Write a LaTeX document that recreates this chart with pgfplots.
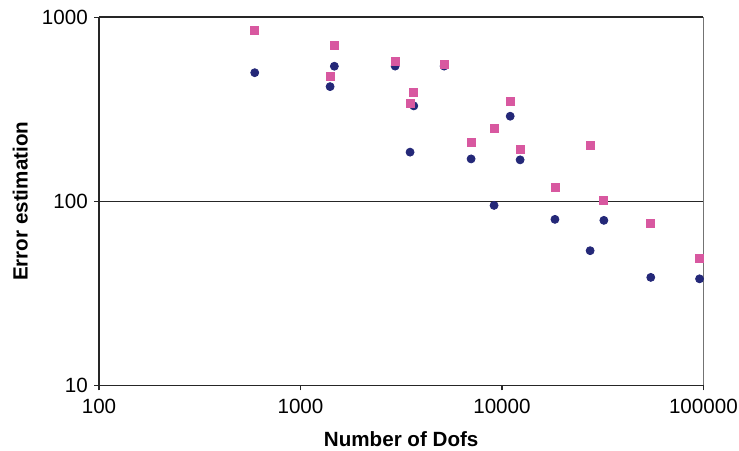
\documentclass[border=0pt]{standalone}
\usepackage{pgfplots}
\pgfplotsset{compat=1.18}
\usepackage{fontspec}
\setmainfont{Liberation Sans}
\definecolor{navy}{RGB}{36,40,120}
\definecolor{pinkm}{RGB}{216,88,160}
\begin{document}
\fontsize{10.3}{12}\selectfont
\begin{tikzpicture}
\path[use as bounding box] (-49.5pt,-32.35pt) rectangle (320pt,192.65pt);
\begin{axis}[
  scale only axis,
  width=302.2pt, height=184pt,
  xmode=log, ymode=log,
  xmin=100, xmax=100000, ymin=10, ymax=1000,
  axis x line*=bottom, axis y line*=left,
  x axis line style={line width=0.8pt, color=black!85, -},
  y axis line style={line width=1pt, color=black!85, -},
  xtick={100,1000,10000,100000},
  xticklabels={100,1000,10000,100000},
  ytick={10,100,1000},
  yticklabels={10,100,1000},
  xminorticks=false, yminorticks=false,
  tick align=outside,
  major tick length=2.5pt,
  tick style={line width=0.6pt, color=black!85},
  ymajorgrids,
  grid style={line width=0.6pt, color=black!85},
  /pgf/number format/assume math mode=true,
  ticklabel style={font=\fontsize{10.3}{12}\selectfont},
  xticklabel style={yshift=-1pt},
  yticklabel style={xshift=0.5pt},
  xlabel={\bfseries Number of Dofs},
  ylabel={\bfseries Error estimation},
  label style={font=\fontsize{10.3}{12}\selectfont\bfseries},
  xlabel style={yshift=-1.5pt},
  ylabel style={yshift=0pt},
  clip=false,
]
\draw[color=black!85, line width=0.8pt] (rel axis cs:0,1) -- (rel axis cs:1,1);
\draw[color=black!55, line width=0.6pt] (rel axis cs:1,0) -- (rel axis cs:1,1);
\addplot[only marks, mark=*, mark size=2pt, color=navy, mark options={fill=navy, draw=navy}] coordinates {
(593,500) (1403,420) (1473,542) (2951,543) (3500,185) (3652,330) (5165,543)
(7030,170) (9140,95) (10990,290) (12310,168) (18330,79.8) (27400,53.9)
(32060,78.8) (54800,38.6) (95700,37.9)
};
\addplot[only marks, mark=square*, mark size=2pt, color=pinkm, mark options={fill=pinkm, draw=pinkm}] coordinates {
(593,846) (1473,701) (1403,480) (2951,579) (3500,339) (3652,389) (5165,555)
(7030,209) (9140,249) (10990,348) (12310,191) (18330,119) (27400,201)
(32060,101) (54800,75.9) (95700,49.2)
};
\end{axis}
\end{tikzpicture}
\end{document}
